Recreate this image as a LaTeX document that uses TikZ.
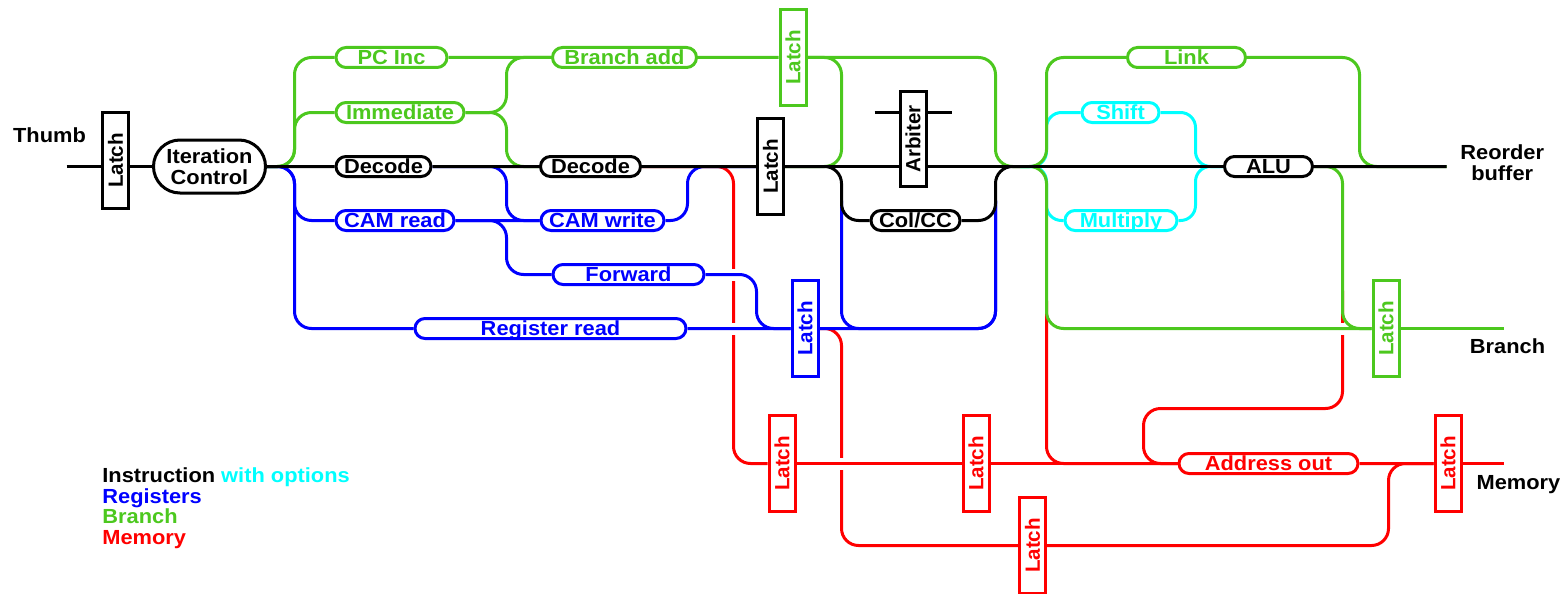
\documentclass[tikz,border=0pt]{standalone}
\usepackage{fontspec}
\setmainfont{Liberation Sans}
\newfontfamily\diagfont{Liberation Sans Bold}[FakeStretch=1.07]
\newfontfamily\uprightfont{Liberation Sans Bold}
\usepackage{graphicx}
\usetikzlibrary{shapes.misc,backgrounds}
\definecolor{Grass}{RGB}{76,200,30}
\definecolor{Reg}{RGB}{0,0,255}
\definecolor{Opt}{RGB}{0,255,255}
\definecolor{Mem}{RGB}{255,0,0}
\tikzset{
  stage/.style={draw,fill=white,line width=3pt},
  pill/.style={stage,rounded rectangle,minimum height=20pt,inner xsep=0pt,inner ysep=0pt,
    text height=14.6pt,text depth=0pt},
  ctrl/.style={stage,rounded rectangle,minimum width=112pt,minimum height=53pt,inner sep=0pt,
    align=center,font=\diagfont\fontsize{20.4}{20.7}\selectfont},
  latch/.style={stage,minimum width=26pt,minimum height=95.5pt,inner sep=0pt,
    font=\uprightfont\fontsize{20.6}{20.6}\selectfont},
  keyline/.style={anchor=base west,inner xsep=0pt},
  wire/.style={line width=3pt,rounded corners=17pt},
  ink/.style={draw=black,line width=3pt}
}
\newcommand{\latchtext}{\rotatebox{90}{Latch}}

\begin{document}
\begin{tikzpicture}[x=1pt,y=-1pt,every node/.style={font=\diagfont\fontsize{20.4}{20.4}\selectfont}]
  \useasboundingbox (0,0) rectangle (1563,594);
  \begin{scope}[shift={(0.5,0.5)}]
  % free ends and junctions
  \coordinate (th) at (66,166);
  \coordinate (jA) at (1020,166);
  \coordinate (rb) at (1446,166);
  \coordinate (br) at (1503,328);
  \coordinate (mem) at (1503,463);
  \coordinate (uL) at (841,200);
  \coordinate (uR) at (995,200);
  \coordinate (rA) at (1046,300);
  \coordinate (rB) at (1342,290);
  \coordinate (arbL) at (874,112);
  \coordinate (arbR) at (951,112);

  % stages
  \node[latch] (latA) at (115,160) {\latchtext};
  \node[ctrl] (iter) at (209,166) {Iteration\\Control};
  \node[Grass,pill,minimum width=111pt] (pcinc) at (391,57) {PC Inc};
  \node[Grass,pill,minimum width=128pt] (immed) at (399.5,112) {Immediate};
  \node[pill,minimum width=95pt] (dec1) at (383,166) {Decode};
  \node[Reg,pill,minimum width=118pt] (camr) at (394.5,220) {CAM read};
  \node[Grass,pill,minimum width=144pt] (brad) at (624,57) {Branch add};
  \node[pill,minimum width=100pt] (dec2) at (590,166) {Decode};
  \node[Reg,pill,minimum width=123pt] (camw) at (602,220) {CAM write};
  \node[Reg,pill,minimum width=151pt] (fwd) at (628,274) {Forward};
  \node[Reg,pill,minimum width=271pt] (regr) at (550,328) {Register read};
  \node[latch] (latB) at (770,166) {\latchtext};
  \node[Grass,latch] (latG) at (792.5,57) {\latchtext};
  \node[Reg,latch] (latR) at (804.5,328) {\latchtext};
  \node[latch] (arb) at (912.5,138.5) {\rotatebox{90}{Arbiter}};
  \node[pill,minimum width=89pt] (colcc) at (915,220) {Col/CC};
  \node[Grass,pill,minimum width=118pt] (link) at (1186,57) {Link};
  \node[Opt,pill,minimum width=77pt] (shift) at (1120,112) {Shift};
  \node[Opt,pill,minimum width=112pt] (mult) at (1120.5,220) {Multiply};
  \node[pill,minimum width=88pt] (alu) at (1268,166) {ALU};
  \node[Grass,latch] (latBr) at (1385.5,328) {\latchtext};
  \node[Mem,latch] (latM1) at (781.5,463) {\latchtext};
  \node[Mem,latch] (latM2) at (975.5,463) {\latchtext};
  \node[Mem,latch] (latM3) at (1032,545) {\latchtext};
  \node[Mem,pill,minimum width=179pt] (addr) at (1268,463) {Address out};
  \node[Mem,latch] (latM4) at (1447.5,463) {\latchtext};

  % end labels
  \node[anchor=base] (thumb) at (49,141.7) {Thumb};
  \node[align=center,font=\diagfont\fontsize{20.4}{20.3}\selectfont] (rob) at (1501.7,162.3) {Reorder\\buffer};
  \node[anchor=base] (branch) at (1507,353) {Branch};
  \node[anchor=base] (memory) at (1518,489) {Memory};

  % key
  \node[keyline] (key1) at (101.7,481.7) {Instruction \textcolor{Opt}{with options}};
  \node[Reg,keyline] (key2) at (101.7,502.5) {Registers};
  \node[Grass,keyline] (key3) at (101.7,523.3) {Branch};
  \node[Mem,keyline] (key4) at (101.7,544) {Memory};

  \begin{scope}[on background layer]
  \begin{scope}[wire]
    % memory
    \draw[Mem] (dec2.east) -- (733,166) -- (733,463) -- (latM1.west);
    \draw[Mem] (latR.east) -- (841,328) -- (841,545) -- (latM3.west);
    \draw[Mem] (rA) -- (1046,463) -- (addr.west);
    \draw[Mem] (rB) -- (1342,408) -- (1143,408) -- (1143,463) -- (addr.west);
    \draw[Mem] (latM3.east) -- (1388,545) -- (1388,463) -- (latM4.west);
    \foreach \x/\y in {733/274,733/328,841/463,1342/328}
      \fill[white,sharp corners] (\x-4,\y-6) rectangle (\x+4,\y+6);
    \foreach \u/\v in {latM1/latM2,latM2/addr,addr/latM4}\draw[Mem] (\u) -- (\v);
    \draw[Mem] (latM4) -- (mem);
    % registers
    \draw[Reg] (iter.east) -- (294,166) -- (294,220) -- (camr.west);
    \draw[Reg] (iter.east) -- (294,166) -- (294,328) -- (regr.west);
    \draw[Reg] (camr) -- (camw);
    \draw[Reg] (dec1.east) -- (506,166) -- (506,220) -- (camw.west);
    \draw[Reg] (camr.east) -- (506,220) -- (506,274) -- (fwd.west);
    \draw[Reg] (camw.east) -- (687,220) -- (687,166) -- (latB.west);
    \draw[Reg] (fwd.east) -- (756,274) -- (756,328) -- (latR.west);
    \draw[Reg] (regr) -- (latR);
    \draw[Reg] (uL) -- (841,328) -- (995,328) -- (uR);
    \draw[Reg] (latR.east) -- (995,328) -- (uR);
    % options
    \draw[Opt,rounded corners=15pt] (jA) -- (1046,166) -- (1046,112) -- (shift.west);
    \draw[Opt,rounded corners=15pt] (jA) -- (1046,166) -- (1046,220) -- (mult.west);
    \draw[Opt,rounded corners=15pt] (shift.east) -- (1195,112) -- (1195,166) -- (alu.west);
    \draw[Opt,rounded corners=15pt] (mult.east) -- (1195,220) -- (1195,166) -- (alu.west);
    % branch
    \draw[Grass] (iter.east) -- (294,166) -- (294,57) -- (pcinc.west);
    \draw[Grass] (iter.east) -- (294,166) -- (294,112) -- (immed.west);
    \draw[Grass] (pcinc) -- (brad);
    \draw[Grass] (immed.east) -- (506,112) -- (506,57) -- (brad.west);
    \draw[Grass] (immed.east) -- (506,112) -- (506,166) -- (dec2.west);
    \draw[Grass] (brad) -- (latG);
    \draw[Grass] (latG.east) -- (841,57) -- (841,166) -- (latB.east);
    \draw[Grass] (latG.east) -- (995,57) -- (995,166) -- (jA);
    \draw[Grass] (jA) -- (1046,166) -- (1046,57) -- (link.west);
    \draw[Grass] (jA) -- (1046,166) -- (1046,328) -- (latBr.west);
    \draw[Grass] (link.east) -- (1359,57) -- (1359,166) -- (rb);
    \draw[Grass] (alu.east) -- (1342,166) -- (1342,328) -- (latBr.west);
    \draw[Grass] (latBr) -- (br);
    % instruction
    \draw[ink] (th) -- (th -| latA.west);
    \draw[ink] (latA.east |- th) -- (iter);
    \foreach \u/\v in {iter/dec1,dec1/dec2,dec2/latB,latB/alu}\draw[ink] (\u) -- (\v);
    \draw[ink] (alu) -- (rb);
    \draw[ink] (latB.east) -- (841,166) -- (841,220) -- (colcc.west);
    \draw[ink] (colcc.east) -- (995,220) -- (995,166) -- (jA);
    \draw[ink] (arbL) -- (arbR);
  \end{scope}
  \end{scope}
  \end{scope}
\end{tikzpicture}
\end{document}
